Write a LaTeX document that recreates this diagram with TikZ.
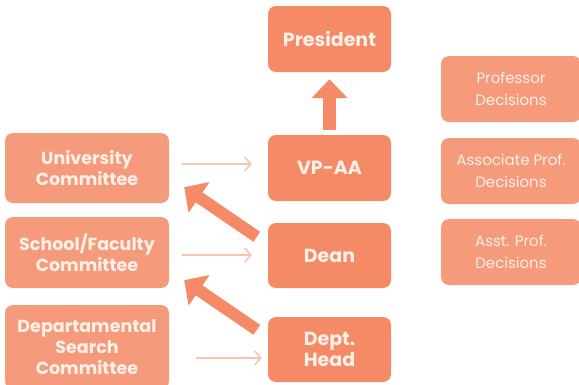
\documentclass[tikz,border=0pt]{standalone}
\usepackage{fontspec}
\setmainfont{Poppins}[UprightFont={* Regular},BoldFont={* Bold}]
\usetikzlibrary{calc,arrows.meta}
\definecolor{dark}{HTML}{F48B66}
\definecolor{light}{HTML}{F59B7B}
\definecolor{thin}{HTML}{F9C3AD}
\definecolor{txt}{HTML}{FDF0E8}
\tikzset{
  darkbox/.style={fill=dark,rounded corners=8pt,minimum width=123pt,minimum height=66pt,inner sep=0pt,align=center,text=txt,font=\fontsize{19}{21}\selectfont\bfseries},
  leftbox/.style={fill=light,rounded corners=8pt,minimum width=164pt,minimum height=70pt,inner sep=0pt,align=center,text=txt,font=\fontsize{17.5}{21}\selectfont\bfseries},
  rightbox/.style={fill=light,rounded corners=8pt,minimum width=140pt,minimum height=66pt,inner sep=0pt,align=center,text=txt,font=\fontsize{15}{22}\selectfont},
  thinarrow/.style={draw=thin,line width=1.6pt,-{Straight Barb[length=6pt,width=14pt]}},
  thickarrow/.style={draw=dark,line width=12pt,-{Triangle[length=18pt,width=36pt]}}
}
\begin{document}
\begin{tikzpicture}[x=1pt,y=-1pt]
\useasboundingbox (0,0) rectangle (579,384);
\begin{scope}
\clip (0,0) rectangle (579,384);
\node[darkbox] (pres) at (329.5,39) {President};
\node[darkbox] (vp) at (329.5,168) {VP-AA};
\node[darkbox, minimum height=65pt] (dean) at (329.5,255.5) {Dean};
\node[darkbox, minimum height=65pt] (head) at (329.5,349.5) {Dept.\\Head};
\node[leftbox] (univ) at (87,168) {University\\Committee};
\node[leftbox, minimum height=71pt] (school) at (87,252.5) {School/Faculty\\Committee};
\node[leftbox, minimum height=84pt] (dept) at (87,347) {Departamental\\Search\\Committee};
\node[rightbox] (prof) at (511,89) {Professor\\Decisions};
\node[rightbox] (assoc) at (511,171) {Associate Prof.\\Decisions};
\node[rightbox] (asst) at (511,252) {Asst. Prof.\\Decisions};
\end{scope}
\draw[thinarrow] ($(univ.east)+(13,-4)$) -- ($(vp.west)+(-16,-4)$);
\draw[thinarrow] ($(school.east)+(13,2.5)$) -- ($(dean.west)+(-16,-0.5)$);
\draw[thinarrow] ($(dept.east)+(27,11)$) -- ($(head.west)+(-6,8.5)$);
\draw[thickarrow] ($(dean.north west)+(-11,14)$) -- ($(univ.south east)+(15,-16)$);
\draw[thickarrow] ($(head.north west)+(-11,13)$) -- ($(school.south east)+(15,-8)$);
\draw[draw=dark,line width=13pt,-{Triangle[length=19pt,width=35pt]}] ($(vp.north)+(0,-5)$) -- ($(pres.south)+(0,7)$);
\end{tikzpicture}
\end{document}
